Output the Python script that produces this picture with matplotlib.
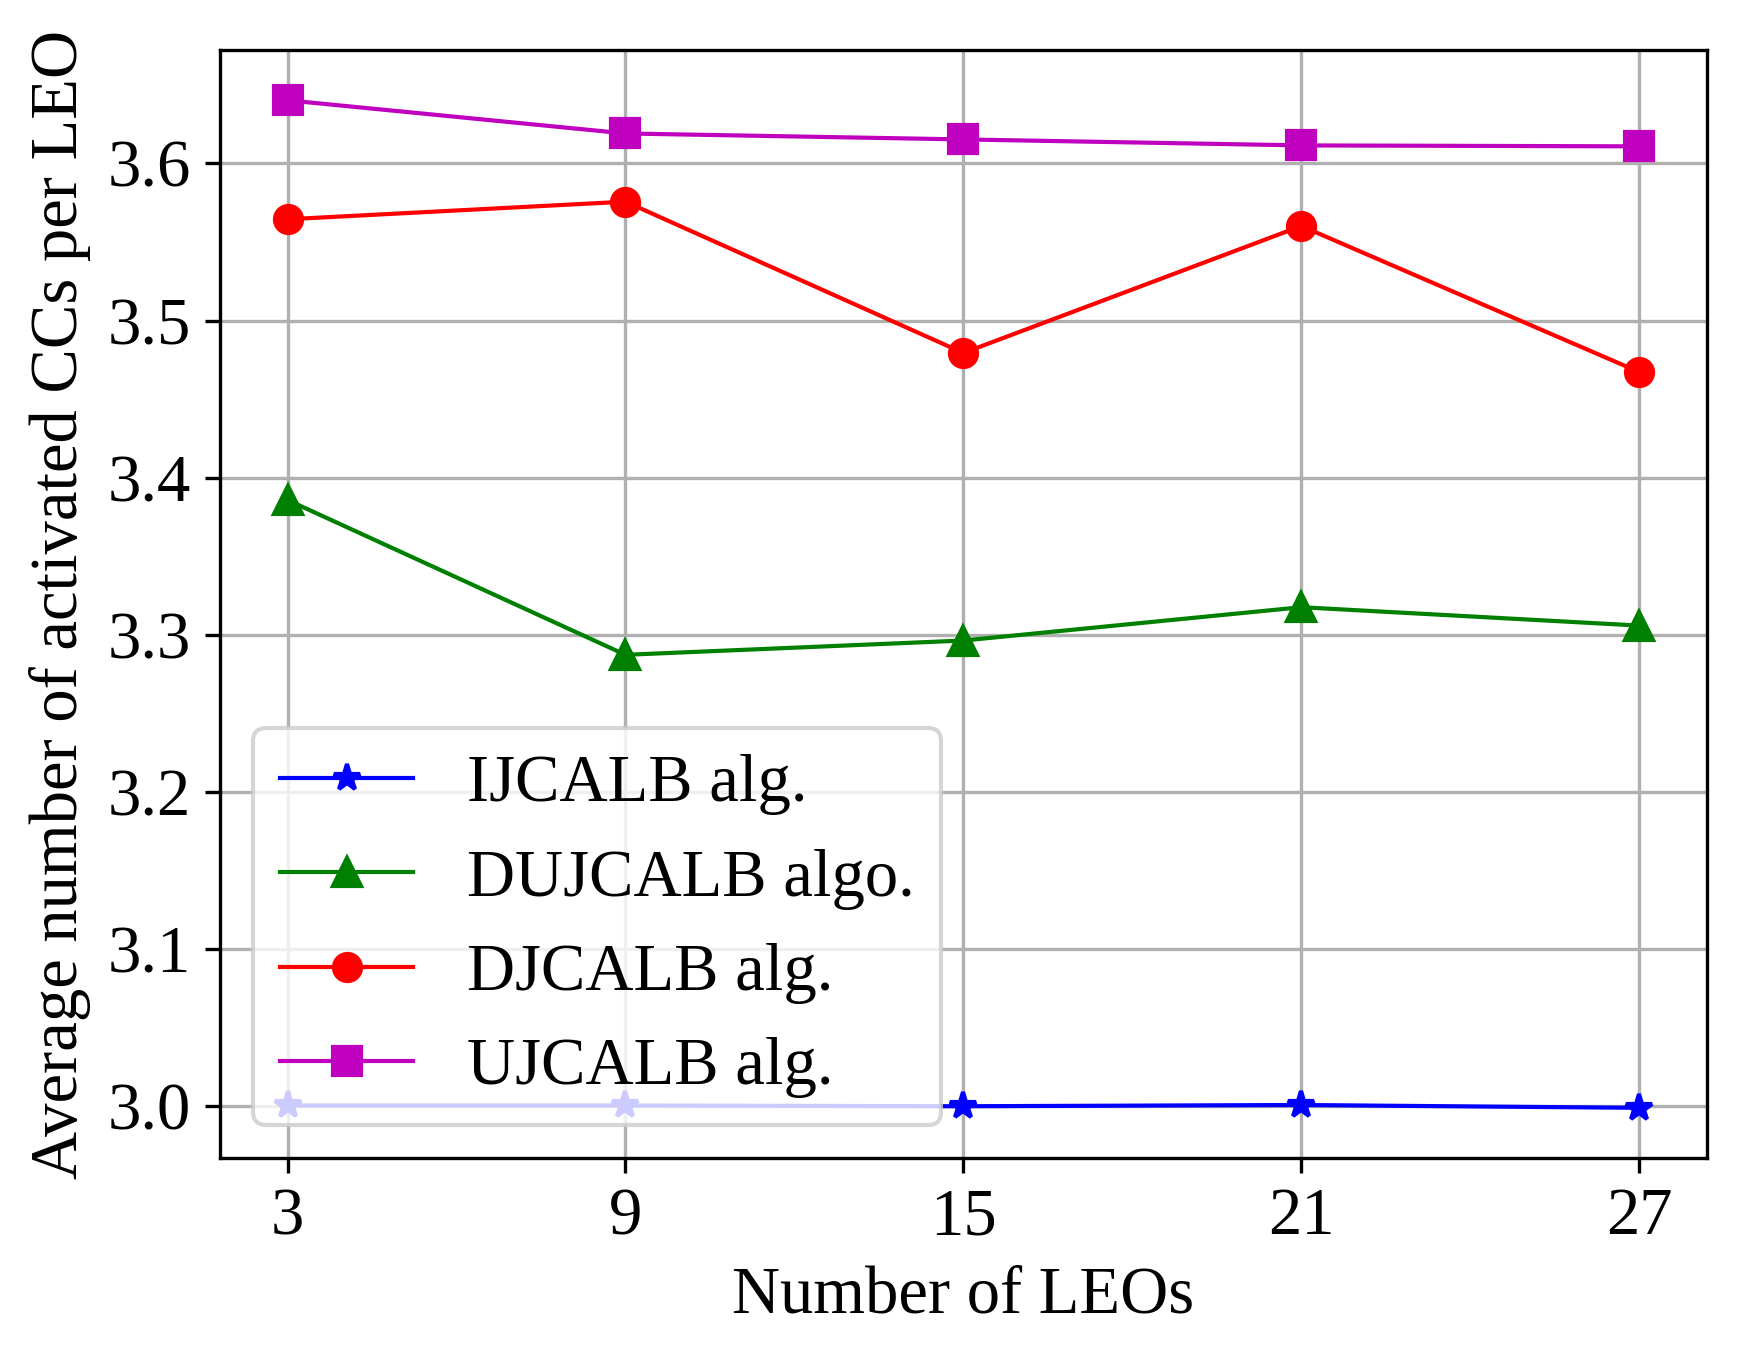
import numpy as np
import matplotlib.pyplot as plt

plt.rcParams["font.family"] = ["Liberation Serif", "DejaVu Serif"]
plt.rcParams["font.size"] = 16

num_leos = [3, 9, 15, 21, 27]

ijcalb = [3.0005, 3.0005, 3.0000, 3.0008, 2.9990]
dujcalb = [3.3858, 3.2873, 3.2964, 3.3176, 3.3059]
djcalb = [3.5645, 3.5757, 3.4794, 3.5602, 3.4673]
ujcalb = [3.6402, 3.6191, 3.6153, 3.6115, 3.6109]

fig = plt.figure(figsize=(1738 / 300, 1357 / 300), dpi=300)
fig.subplots_adjust(left=0.1266, right=0.982, top=0.9632, bottom=0.1465)

plt.plot(num_leos, ijcalb, "b*-", lw=1.0, ms=6.5, label="IJCALB alg.")
plt.plot(num_leos, dujcalb, "g^-", lw=1.0, ms=6.5, label="DUJCALB algo.")
plt.plot(num_leos, djcalb, "ro-", lw=1.0, ms=6.5, label="DJCALB alg.")
plt.plot(num_leos, ujcalb, "ms-", lw=1.0, ms=6.5, label="UJCALB alg.")

plt.xticks(num_leos)
plt.xlabel("Number of LEOs")
plt.ylabel("Average number of activated CCs per LEO")
plt.grid(True)
plt.legend(loc="lower left")

plt.savefig("out.png", dpi=300)
